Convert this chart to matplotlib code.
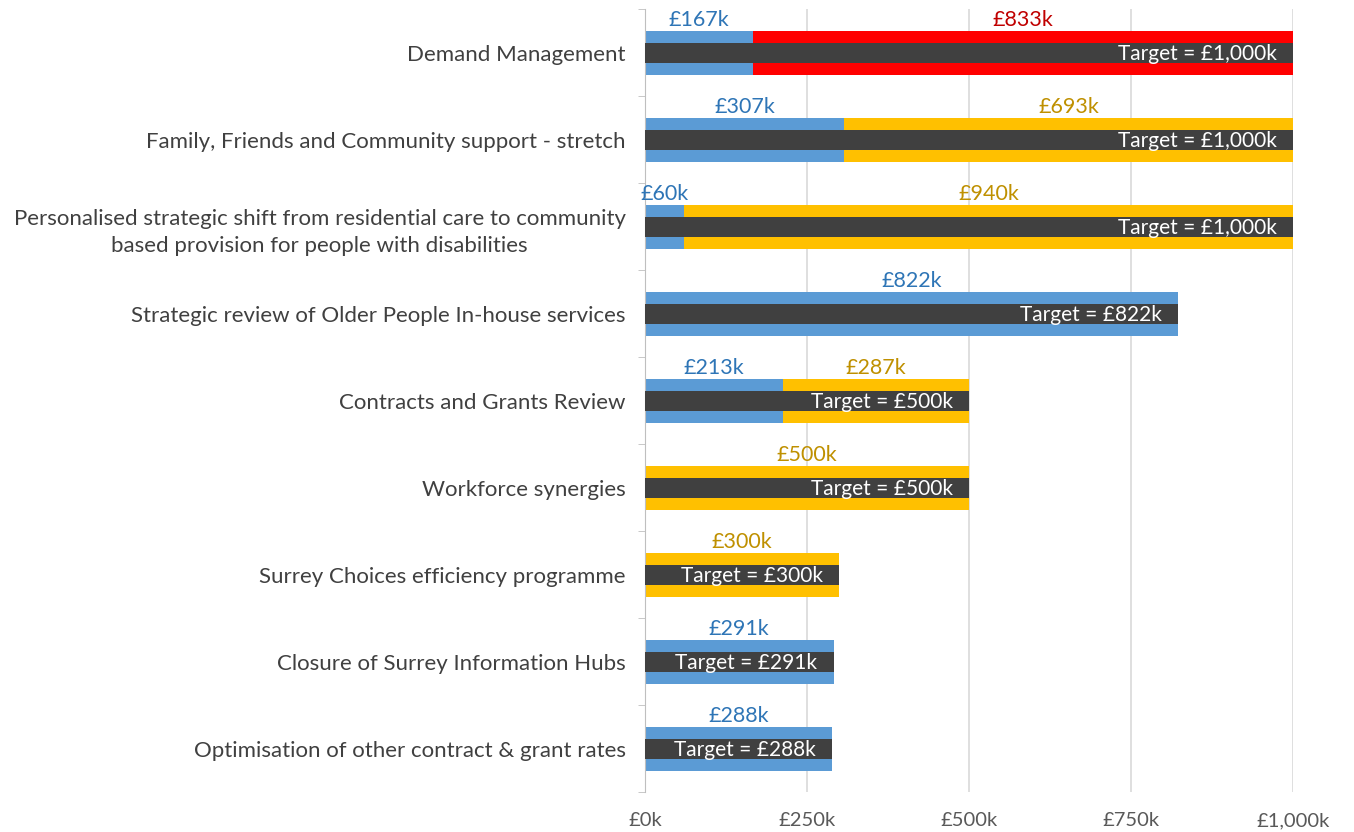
import numpy as np
import matplotlib.pyplot as plt

# Datos del gráfico (en miles de libras)
categorias = [
    "Demand Management",
    "Family, Friends and Community support - stretch",
    "Personalised strategic shift from residential care to community\nbased provision for people with disabilities",
    "Strategic review of Older People In-house services",
    "Contracts and Grants Review",
    "Workforce synergies",
    "Surrey Choices efficiency programme",
    "Closure of Surrey Information Hubs",
    "Optimisation of other contract & grant rates",
]
conseguido = [167, 307, 60, 822, 213, 0, 0, 291, 288]
pendiente = [833, 693, 940, 0, 287, 500, 300, 0, 0]
objetivo = [1000, 1000, 1000, 822, 500, 500, 300, 291, 288]
riesgo = ["red", "amber", "amber", "amber", "amber", "amber", "amber", "amber", "amber"]
ticks_x = [0, 250, 500, 750, 1000]

plt.rcParams['font.family'] = ['Lato', 'DejaVu Sans']

azul = '#5B9BD5'
colores_pend = {'red': '#FF0000', 'amber': '#FFC000'}
colores_txt = {'red': '#C00000', 'amber': '#BF9000'}

fig = plt.figure(figsize=(13.54, 8.32), dpi=100)
ax = fig.add_axes([0.4764, 0.0475, 0.955 - 0.4764, 0.9886 - 0.0475])

y = np.arange(len(categorias))
ax.barh(y, conseguido, height=0.5, color=azul, zorder=2)
ax.barh(y, pendiente, left=conseguido, height=0.5,
        color=[colores_pend[r] for r in riesgo], zorder=2)
ax.barh(y, objetivo, height=0.23, color='#404040', zorder=3)

for i in range(len(categorias)):
    if conseguido[i] > 0:
        ax.text(conseguido[i] / 2, i - 0.26, f"£{conseguido[i]}k", ha='center', va='bottom',
                fontsize=15.5, color='#2E75B6')
    if pendiente[i] > 0:
        ax.text(conseguido[i] + pendiente[i] / 2, i - 0.26, f"£{pendiente[i]}k", ha='center',
                va='bottom', fontsize=15.5, color=colores_txt[riesgo[i]])
    ax.text(objetivo[i] - 25, i + 0.01, f"Target = £{objetivo[i]:,}k", ha='right', va='center',
            fontsize=15, color='white', zorder=4)

ax.set_xlim(0, 1000)
ax.set_ylim(len(categorias) - 0.5, -0.5)
ax.set_xticks(ticks_x)
ax.set_xticklabels([f"£{t:,}k" for t in ticks_x], fontsize=14.5, color='#595959')
ax.set_yticks(y)
ax.set_yticklabels(categorias, fontsize=16, color='#404040', linespacing=1.45,
                   multialignment='center')
ax.set_yticks(np.arange(len(categorias) + 1) - 0.5, minor=True)
ax.tick_params(axis='y', which='major', length=0, pad=14)
ax.tick_params(axis='y', which='minor', length=5, color='#BFBFBF')
ax.tick_params(axis='x', length=0, pad=14)

ax.grid(axis='x', color='#D9D9D9', linewidth=1.2, zorder=0)
ax.set_axisbelow(True)
for s in ['top', 'right', 'bottom']:
    ax.spines[s].set_visible(False)
ax.spines['left'].set_color('#BFBFBF')

plt.savefig('out.png', dpi=100)
